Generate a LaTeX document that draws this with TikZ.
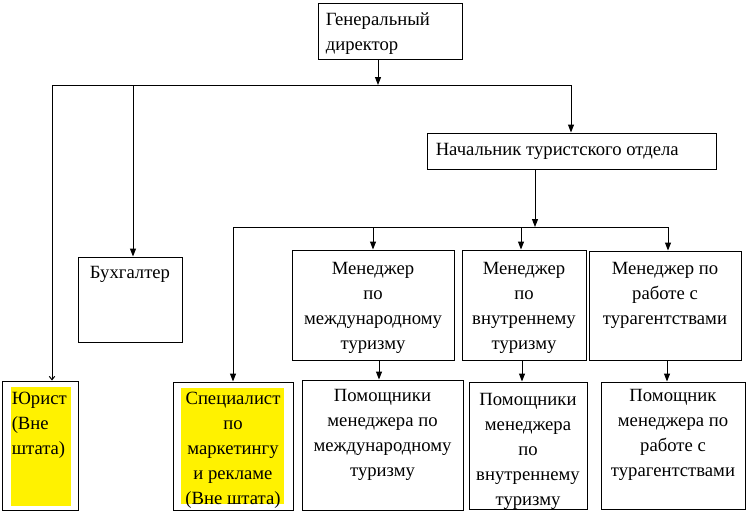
\documentclass[tikz,border=0pt]{standalone}
\usepackage{fontspec}
\setmainfont{Liberation Serif}
\usetikzlibrary{arrows.meta, positioning}

\begin{document}
\begin{tikzpicture}[
    x=0.75pt, y=-0.75pt,
    box/.style={rectangle, draw, line width=0.75pt, inner sep=0pt},
    txt/.style={font=\fontsize{14}{18.75}\selectfont, align=center, inner sep=0pt},
    arrow/.style={->, >={Triangle[length=6pt, width=4.5pt]}, line width=0.75pt},
    thinarrow/.style={->, >={Straight Barb[length=2.5pt, width=4pt]}, line width=0.75pt}
]
\useasboundingbox (0,0) rectangle (750,514);

% Top level
\node[box, minimum width=108pt, minimum height=42pt,
  label={[txt, align=left, anchor=north west, xshift=6pt, yshift=-7.5pt]north west:Генеральный\\директор}] (gd) at (390,31) {};
\node[box, minimum width=216.75pt, minimum height=27pt,
  label={[txt, anchor=west, xshift=6.75pt]west:Начальник туристского отдела}] (nach) at (571.5,151) {};

% Staff
\node[box, minimum width=78pt, minimum height=63.75pt,
  label={[txt, anchor=north, yshift=-7.5pt]north:Бухгалтер}] (buh) at (130,299.5) {};
\node[box, minimum width=57pt, minimum height=96.75pt,
  path picture={\fill[yellow] ([xshift=6.75pt, yshift=-4.5pt]path picture bounding box.north west) rectangle ([xshift=-5.25pt, yshift=3pt]path picture bounding box.south east);},
  label={[txt, align=left, anchor=north west, xshift=7.5pt, yshift=-8.25pt]north west:Юрист\\(Вне\\штата)}] (yur) at (40,445.5) {};
\node[box, minimum width=90pt, minimum height=96pt,
  path picture={\fill[yellow] ([xshift=6pt, yshift=-4.5pt]path picture bounding box.north west) rectangle ([xshift=-6.75pt, yshift=4.5pt]path picture bounding box.south east);},
  label={[txt, anchor=north, yshift=-7.5pt]north:Специалист\\по\\маркетингу\\и рекламе\\(Вне штата)}] (spec) at (233,446) {};

% Managers
\node[box, minimum width=121.5pt, minimum height=82.5pt,
  label={[txt, anchor=north, yshift=-9.75pt]north:Менеджер\\по\\международному\\туризму}] (m1) at (373,305) {};
\node[box, minimum width=93pt, minimum height=82.5pt,
  label={[txt, anchor=north, yshift=-9.75pt]north:Менеджер\\по\\внутреннему\\туризму}] (m2) at (524,305) {};
\node[box, minimum width=114pt, minimum height=81.75pt,
  label={[txt, anchor=north, yshift=-9pt]north:Менеджер по\\работе с\\турагентствами}] (m3) at (665,305.5) {};

% Assistants
\node[box, minimum width=120.75pt, minimum height=97.5pt,
  label={[txt, anchor=north, yshift=-7.5pt]north:Помощники\\менеджера по\\международному\\туризму}] (p1) at (382.5,445) {};
\node[box, minimum width=88.5pt, minimum height=95.25pt,
  label={[txt, anchor=north, yshift=-9pt]north:Помощники\\менеджера\\по\\внутреннему\\туризму}] (p2) at (528,445.5) {};
\node[box, minimum width=108pt, minimum height=95.25pt,
  label={[txt, anchor=north, yshift=-5.5pt]north:Помощник\\менеджера по\\работе с\\турагентствами}] (p3) at (673,445.5) {};

% Bus joints
\coordinate (j0) at (52,85);
\coordinate (j1) at (133,85);
\coordinate (jgd) at (378,85);
\coordinate (j2) at (571,85);
\coordinate (k0) at (233,227);
\coordinate (kn) at (535,227);
\coordinate (k2) at (521,227);
\coordinate (k3) at (668,227);
\path ([xshift=4.5pt]m1.south) coordinate (d1)
      ([xshift=-1.5pt]m2.south) coordinate (d2)
      ([xshift=1.5pt]m3.south) coordinate (d3);

% Connectors
\draw[arrow] (gd.south -| jgd) -- (jgd);
\draw[line width=0.75pt] (j0) -- (j2);
\draw[thinarrow] (j0) -- (j0 |- yur.north);
\draw[arrow] (j1) -- (j1 |- buh.north);
\draw[arrow] (j2) -- (j2 |- nach.north);

\draw[arrow] (nach.south -| kn) -- (kn);
\draw[line width=0.75pt] (k0) -- (k3);
\draw[arrow] (k0) -- (spec.north);
\draw[arrow] (m1.north |- k0) -- (m1.north);
\draw[arrow] (k2) -- (k2 |- m2.north);
\draw[arrow] (k3) -- (k3 |- m3.north);

\draw[arrow] (d1) -- (d1 |- p1.north);
\draw[arrow] (d2) -- (d2 |- p2.north);
\draw[arrow] (d3) -- (d3 |- p3.north);

\end{tikzpicture}
\end{document}
